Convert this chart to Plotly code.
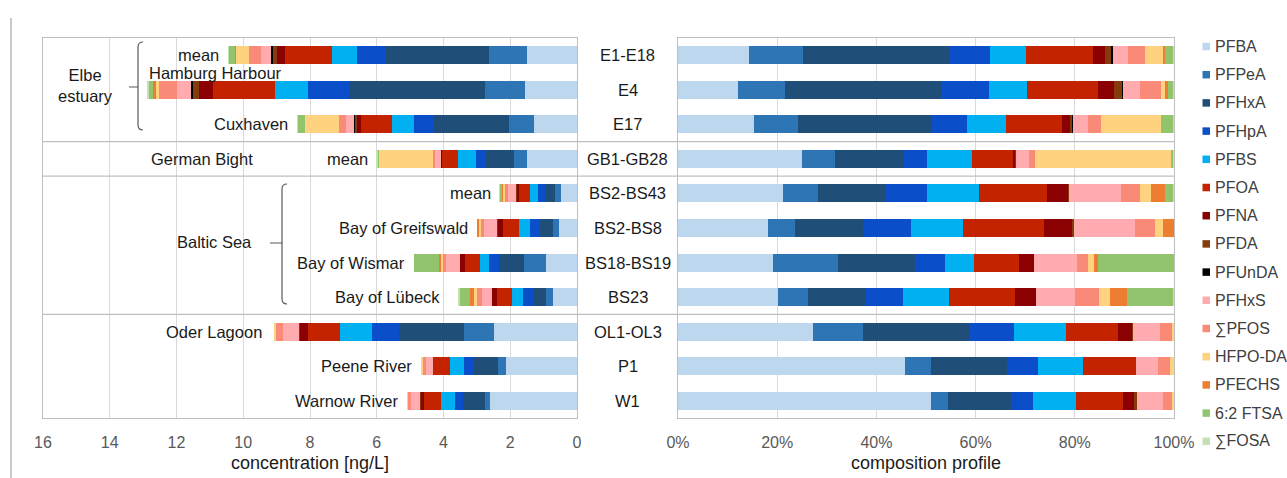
import plotly.graph_objects as go
import numpy as np

# ---------------- data ----------------
sites = ["E1-E18", "E4", "E17", "GB1-GB28", "BS2-BS43", "BS2-BS8",
         "BS18-BS19", "BS23", "OL1-OL3", "P1", "W1"]
site_labels = ["mean", "Hamburg Harbour", "Cuxhaven", "mean", "mean",
               "Bay of Greifswald", "Bay of Wismar", "Bay of Lübeck",
               "Oder Lagoon", "Peene River", "Warnow River"]
# total PFAS concentration per site [ng/L]
total_conc = [10.45, 12.87, 8.38, 6.00, 2.32, 3.01, 4.89, 3.54, 9.07, 4.66, 5.09]

compounds = ["PFBA", "PFPeA", "PFHxA", "PFHpA", "PFBS", "PFOA", "PFNA", "PFDA",
             "PFUnDA", "PFHxS", "∑PFOS", "HFPO-DA", "PFECHS", "6:2 FTSA", "∑FOSA"]
colors = ["#BDD7EE", "#2E75B6", "#1F4E79", "#0A4FC9", "#00B0F0", "#C42300",
          "#8B0000", "#843C0C", "#000000", "#FFABB0", "#FA8A78", "#FFD27F",
          "#ED7D31", "#92C46E", "#C5E0B4"]

# composition profile [% of total], per compound, site order as `sites`
pfba    = [14.3, 12.1, 15.4, 24.9, 21.2, 18.2, 19.1, 20.2, 27.3, 45.7, 51.1]
pfpea   = [10.9,  9.4,  8.8,  6.7,  7.0,  5.4, 13.1,  6.1,  9.9,  5.4,  3.3]
pfhxa   = [29.5, 31.5, 27.0, 13.9, 13.6, 13.6, 15.5, 11.3, 21.5, 15.2, 12.7]
pfhpa   = [ 8.3,  9.6,  7.0,  4.7,  8.3,  9.8,  6.2,  7.7,  9.0,  6.2,  4.5]
pfbs    = [ 7.2,  7.8,  7.9,  9.0, 10.6, 10.5,  5.7,  9.4, 10.5,  9.2,  8.6]
pfoa    = [13.5, 14.3, 11.3,  8.5, 13.7, 16.3,  9.2, 13.3, 10.6, 10.6,  9.6]
pfna    = [ 2.4,  3.3,  1.6,  0.3,  4.3,  5.7,  2.9,  4.2,  2.9,  0.0,  2.1]
pfda    = [ 1.2,  1.6,  0.6,  0.1,  0.1,  0.3,  0.0,  0.0,  0.1,  0.0,  0.6]
pfunda  = [ 0.3,  0.2,  0.1,  0.0,  0.0,  0.0,  0.0,  0.0,  0.0,  0.0,  0.0]
pfhxs   = [ 3.1,  3.4,  2.9,  2.7, 10.5, 12.4,  8.8,  7.9,  5.4,  4.5,  5.3]
pfos    = [ 3.4,  4.1,  2.6,  1.2,  3.8,  3.9,  2.1,  4.8,  2.4,  2.4,  1.7]
hfpoda  = [ 3.7,  0.8, 12.1, 27.3,  2.3,  1.6,  1.2,  2.2,  0.4,  0.8,  0.5]
pfechs  = [ 0.3,  0.7,  0.0,  0.0,  2.7,  2.3,  0.9,  3.4,  0.0,  0.0,  0.0]
ftsa62  = [ 1.7,  1.0,  2.5,  0.5,  1.7,  0.0, 15.3,  9.3,  0.0,  0.0,  0.0]
fosa    = [ 0.2,  0.2,  0.2,  0.2,  0.2,  0.0,  0.0,  0.2,  0.0,  0.0,  0.0]

profiles = [pfba, pfpea, pfhxa, pfhpa, pfbs, pfoa, pfna, pfda, pfunda,
            pfhxs, pfos, hfpoda, pfechs, ftsa62, fosa]

conc_ticks = list(range(0, 17, 2))
pct_ticks = [0, 20, 40, 60, 80, 100]
pct_ticktext = [f"{v}%" for v in pct_ticks]

# ---------------- layout helpers (screen pixels) ----------------
FW, FH = 1287, 478
FONT = "Arial, 'Liberation Sans', sans-serif"
TXT = "#1a1a1a"
GRID = "#d9d9d9"
FRAME = "#bfbfbf"


def sx(px):
    return px / FW


def sy(py):
    return 1 - py / FH


fig = go.Figure()

tot = np.array(total_conc)
for name, col, prof in zip(compounds, colors, profiles):
    p = np.array(prof)
    fig.add_trace(go.Bar(
        y=sites, x=tot * p / 100.0, orientation="h", name=name,
        marker=dict(color=col, line=dict(width=0)), legendgroup=name,
        showlegend=False, xaxis="x", yaxis="y",
        hovertemplate="%{y}: %{x:.2f} ng/L<extra>" + name + "</extra>"))
    fig.add_trace(go.Bar(
        y=sites, x=p, orientation="h", name=name,
        marker=dict(color=col, line=dict(width=0)), legendgroup=name,
        showlegend=False, xaxis="x2", yaxis="y2",
        hovertemplate="%{y}: %{x:.1f}%<extra>" + name + "</extra>"))

axis_common = dict(showline=True, linecolor=FRAME, linewidth=1, mirror=True,
                   zeroline=False, showgrid=True, gridcolor=GRID, gridwidth=1,
                   ticks="", ticklabelstandoff=10, automargin=False,
                   tickfont=dict(size=16, color="#595959", family=FONT))

ydom = [sy(418), sy(38)]
fig.update_layout(
    width=FW, height=FH,
    margin=dict(l=0, r=0, t=0, b=0, autoexpand=False),
    paper_bgcolor="white", plot_bgcolor="white",
    barmode="stack", bargap=0.48,
    font=dict(family=FONT, size=16, color=TXT),
    xaxis=dict(domain=[sx(43), sx(577)], range=[16, 0], tickvals=conc_ticks,
               anchor="y",
               title=dict(text="concentration [ng/L]", font=dict(size=18, color=TXT),
                          standoff=6),
               **axis_common),
    yaxis=dict(domain=ydom, type="category", categoryorder="array",
               categoryarray=sites, range=[len(sites) - 0.5, -0.5],
               showticklabels=False, showgrid=False, showline=True,
               linecolor=FRAME, mirror=True, zeroline=False, anchor="x"),
    xaxis2=dict(domain=[sx(678), sx(1174)], range=[0, 100], tickvals=pct_ticks,
                ticktext=pct_ticktext, anchor="y2",
                title=dict(text="composition profile", font=dict(size=18, color=TXT),
                           standoff=6),
                **axis_common),
    yaxis2=dict(domain=ydom, type="category", categoryorder="array",
                categoryarray=sites, range=[len(sites) - 0.5, -0.5],
                showticklabels=False, showgrid=False, showline=True,
                linecolor=FRAME, mirror=True, zeroline=False, anchor="x2"),
    showlegend=False,
)

# ---------------- separators & frame lines ----------------
shapes = []
for yb in [2.5, 3.5, 7.5]:
    shapes.append(dict(type="line", xref="paper", yref="y", x0=sx(43), x1=sx(1174),
                       y0=yb, y1=yb, line=dict(color=FRAME, width=1.2), layer="above"))
# outer frame line on the far left
shapes.append(dict(type="line", xref="paper", yref="paper", x0=sx(11), x1=sx(11),
                   y0=sy(478), y1=sy(18), line=dict(color="#a6a6a6", width=1.2)))


def bracket(xv, ytop, ybot, ymid, xtick):
    r = 5
    pts = (f"M{sx(xv + 5)},{sy(ytop)} Q{sx(xv)},{sy(ytop)} {sx(xv)},{sy(ytop + r)} "
           f"L{sx(xv)},{sy(ybot - r)} Q{sx(xv)},{sy(ybot)} {sx(xv + 5)},{sy(ybot)} "
           f"M{sx(xtick)},{sy(ymid)} L{sx(xv)},{sy(ymid)}")
    return dict(type="path", xref="paper", yref="paper", path=pts,
                line=dict(color="#595959", width=1.2))


shapes.append(bracket(138, 42, 130, 87, 129))
shapes.append(bracket(282, 184, 304, 243, 270))

# ---------------- annotations ----------------
LBL = 16.5
ann = []
gap_default = 7
gap_extra = {7: 17, 8: 10}
for i, (lab, t) in enumerate(zip(site_labels, total_conc)):
    if i == 1:
        ann.append(dict(text=lab, x=t, y=i - 0.5, xref="x", yref="y",
                        xanchor="left", yanchor="middle", showarrow=False,
                        font=dict(size=LBL, color=TXT)))
    else:
        ann.append(dict(text=lab, x=t, y=i, xref="x", yref="y",
                        xanchor="right", yanchor="middle", showarrow=False,
                        xshift=-gap_extra.get(i, gap_default),
                        font=dict(size=LBL, color=TXT)))
# site codes in the middle
for i, s in enumerate(sites):
    ann.append(dict(text=s, x=sx(627.5), y=i, xref="paper", yref="y2",
                    xanchor="center", yanchor="middle", showarrow=False,
                    font=dict(size=LBL, color=TXT)))
# group labels
ann.append(dict(text="Elbe<br>estuary", x=sx(85), y=sy(86), xref="paper", yref="paper",
                xanchor="center", yanchor="middle", showarrow=False,
                font=dict(size=LBL, color=TXT)))
ann.append(dict(text="German Bight", x=sx(202), y=3, xref="paper", yref="y",
                xanchor="center", yanchor="middle", showarrow=False,
                font=dict(size=LBL, color=TXT)))
ann.append(dict(text="Baltic Sea", x=sx(215), y=sy(242), xref="paper", yref="paper",
                xanchor="center", yanchor="middle", showarrow=False,
                font=dict(size=LBL, color=TXT)))

# ---------------- legend (compound key) ----------------
LEG_Y0, LEG_DY = 46.5, 28.2
for k, (name, col) in enumerate(zip(compounds, colors)):
    yc = LEG_Y0 + k * LEG_DY
    shapes.append(dict(type="rect", xref="paper", yref="paper",
                       x0=sx(1202.5), x1=sx(1210), y0=sy(yc + 3.75), y1=sy(yc - 3.75),
                       fillcolor=col, line=dict(width=0)))
    ann.append(dict(text=name, x=sx(1213), y=sy(yc), xref="paper", yref="paper",
                    xanchor="left", yanchor="middle", showarrow=False,
                    font=dict(size=16, color="#404040")))

fig.update_layout(shapes=shapes, annotations=ann)

# remove the default page margin so the figure fills the window exactly
fig.write_html("out.html",
               config={"displayModeBar": False},
               post_script="document.body.style.margin='0';"
                           "document.body.style.overflow='hidden';")
